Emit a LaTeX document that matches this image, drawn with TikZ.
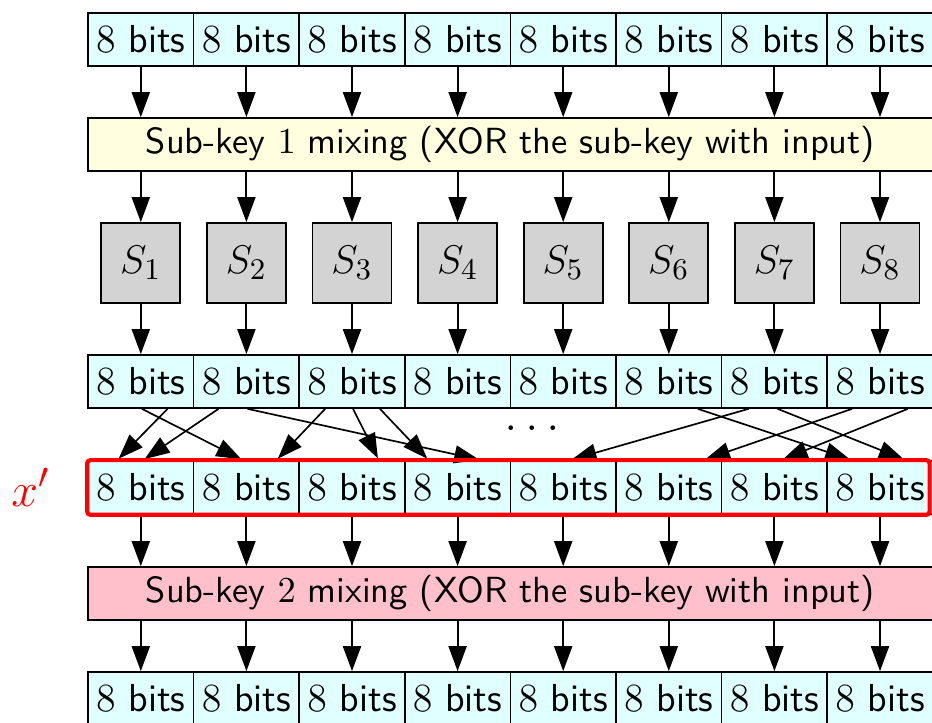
\documentclass[tikz,border=0pt]{standalone}
\usepackage{amsmath}
\usepackage{xcolor}
\usepackage{tikz}
\usetikzlibrary{positioning,calc,arrows.meta}
\definecolor{cellcyan}{HTML}{E0FFFF}
\definecolor{keyyellow}{HTML}{FFFFE0}
\definecolor{keypink}{HTML}{FFC0CB}
\definecolor{sboxgray}{HTML}{D3D3D3}

\begin{document}
\begin{tikzpicture}[x=0.3pt, y=-0.3pt,
  bitcell/.style={draw, fill=cellcyan, line width=0.5pt, minimum width=31.68pt, minimum height=15.9pt, inner sep=0pt, font=\fontsize{11.7}{14}\sffamily},
  keybox/.style={draw, line width=0.5pt, minimum width=253.4pt, minimum height=15.9pt, inner sep=0pt, font=\fontsize{10.9}{13}\sffamily},
  sbox/.style={draw, fill=sboxgray, line width=0.5pt, minimum width=23.7pt, minimum height=24pt, inner sep=0pt, font=\fontsize{12.8}{15}\selectfont},
  flow/.style={-{Triangle[length=7.5pt,width=5.4pt]}, line width=0.6pt},
  xframe/.style={draw=red, line width=1.25pt, rounded corners=1pt},
]
\useasboundingbox (0,0) rectangle (932,723);

% Bit rows: input, S-box output, x', output
\foreach \r/\yy in {t/39.5, m/381.5, x/487.5, b/698.5} {
  \foreach \i in {1,...,8} {
    \node[bitcell] (\r\i) at ({88+105.6*(\i-0.5)}, \yy) {$8$ bits};
  }
}

% Sub-key mixing
\node[keybox, fill=keyyellow] (k1) at (510.4,144.5) {Sub-key $1$ mixing (XOR the sub-key with input)};
\node[keybox, fill=keypink] (k2) at (510.4,593.5) {Sub-key $2$ mixing (XOR the sub-key with input)};

% S-boxes
\foreach \i in {1,...,8} {
  \node[sbox] (s\i) at ({88+105.6*(\i-0.5)}, 263) {$S_{\i}$};
}

% Straight arrows
\foreach \i in {1,...,8} {
  \draw[flow] (t\i) -- (t\i |- k1.north);
  \draw[flow] (t\i |- k1.south) -- (s\i);
  \draw[flow] (s\i) -- (m\i);
  \draw[flow] (x\i) -- (x\i |- k2.north);
  \draw[flow] (x\i |- k2.south) -- (b\i);
}

% Permutation
\foreach \a/\fa/\b/\fb in {1/0.75/1/0.28, 1/0.51/2/0.47, 2/0.24/1/0.52, 2/0.51/4/0.72,
  3/0.25/2/0.78, 3/0.51/3/0.75, 3/0.76/4/0.23, 6/0.77/8/0.24,
  7/0.26/5/0.56, 7/0.53/8/0.74, 8/0.24/6/0.82, 8/0.76/7/0.56} {
  \draw[flow, line width=0.5pt, shorten >=0.6pt] ($(m\a.south west)!\fa!(m\a.south east)$) -- ($(x\b.north west)!\fb!(x\b.north east)$);
}
\node[font=\fontsize{14}{16}\selectfont, inner sep=0pt] (dots) at (536,428) {$\dots$};

% x' highlight
\draw[xframe] (x1.north west) rectangle ([xshift=-1.2pt]x8.south east);
\node[text=red, font=\fontsize{15}{18}\selectfont, inner sep=0pt, left=11pt of x1.west] (xlabel) {$x'$};
\end{tikzpicture}
\end{document}
